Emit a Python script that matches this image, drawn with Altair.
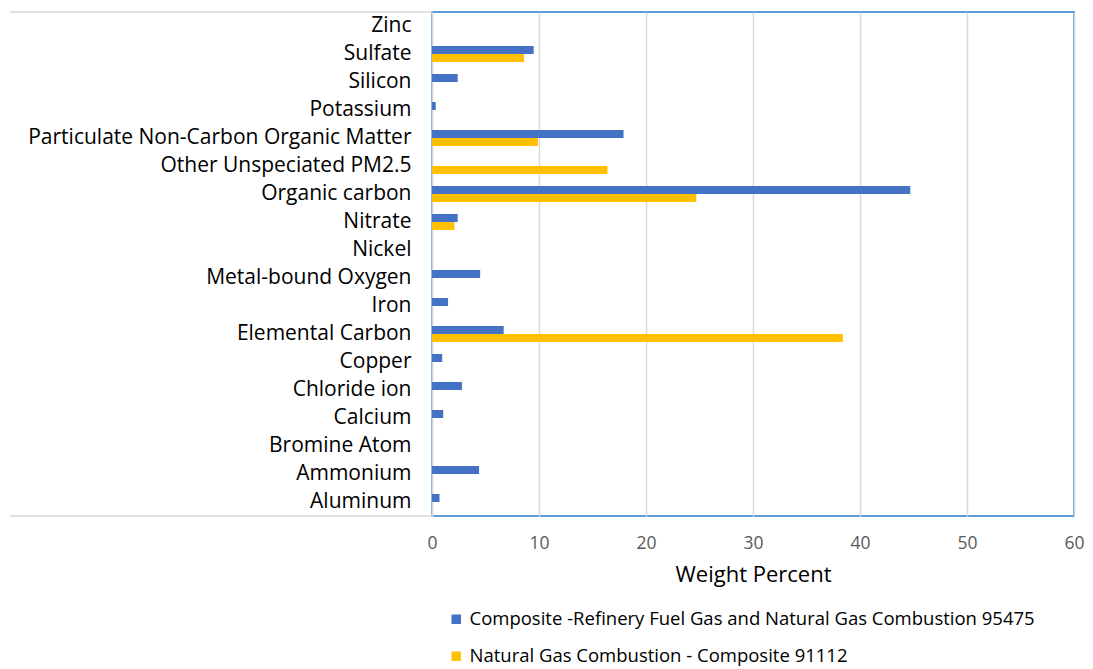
import altair as alt
import pandas as pd

categories = ["Zinc", "Sulfate", "Silicon", "Potassium",
              "Particulate Non-Carbon Organic Matter", "Other Unspeciated PM2.5",
              "Organic carbon", "Nitrate", "Nickel", "Metal-bound Oxygen", "Iron",
              "Elemental Carbon", "Copper", "Chloride ion", "Calcium",
              "Bromine Atom", "Ammonium", "Aluminum"]
series_names = ["Composite -Refinery Fuel Gas and Natural Gas Combustion 95475",
                "Natural Gas Combustion - Composite 91112"]
refinery = [0, 9.5, 2.4, 0.35, 17.9, 0, 44.7, 2.4, 0, 4.5, 1.5,
            6.7, 0.95, 2.8, 1.05, 0, 4.4, 0.7]
natgas = [0, 8.6, 0, 0, 9.9, 16.4, 24.7, 2.1, 0, 0, 0,
          38.4, 0, 0, 0, 0, 0, 0]

rows = []
for c, a, b in zip(categories, refinery, natgas):
    rows.append({"cat": c, "series": series_names[0], "value": a})
    rows.append({"cat": c, "series": series_names[1], "value": b})
df = pd.DataFrame(rows)

FONT = "Open Sans"

bars = alt.Chart(df).mark_bar().encode(
    y=alt.Y("cat:N", sort=categories,
            scale=alt.Scale(paddingInner=0.43, paddingOuter=0.215),
            axis=alt.Axis(title=None, labelFontSize=21, labelColor="#000000",
                          labelFont=FONT, ticks=False, labelPadding=21,
                          domainColor="#d9d9d9", domainWidth=1.5, grid=False,
                          labelLimit=500)),
    yOffset=alt.YOffset("series:N", sort=series_names),
    x=alt.X("value:Q", scale=alt.Scale(domain=[0, 60]),
            axis=alt.Axis(title="Weight Percent", values=[0, 10, 20, 30, 40, 50, 60],
                          labelFontSize=17.5, labelColor="#595959", labelFont=FONT,
                          labelFlush=False,
                          titleFont=FONT, titleFontSize=22, titleColor="#000000",
                          titleFontWeight="normal", titlePadding=13,
                          ticks=False, domain=False, labelPadding=18,
                          gridColor="#d9d9d9", gridWidth=1.5)),
    color=alt.Color("series:N", sort=series_names,
                    scale=alt.Scale(domain=series_names, range=["#4472C4", "#FFC000"]),
                    legend=alt.Legend(title=None, orient="none", legendX=15, legendY=598,
                                      direction="vertical", symbolType="square",
                                      symbolSize=90, symbolStrokeWidth=0,
                                      labelFontSize=18.5, labelFont=FONT,
                                      labelColor="#000000", rowPadding=18,
                                      labelLimit=800)),
)

deco = pd.DataFrame({"k": [0, 1]})
top_rule = alt.Chart(deco).transform_filter("datum.k == 0").mark_rule(
    color="#d9d9d9", strokeWidth=1.5, clip=False).encode(
    x=alt.value(-422), x2=alt.value(0), y=alt.value(0))
bot_rule = alt.Chart(deco).transform_filter("datum.k == 1").mark_rule(
    color="#d9d9d9", strokeWidth=1.5, clip=False).encode(
    x=alt.value(-422), x2=alt.value(0), y=alt.value(504))

chart = alt.layer(top_rule, bot_rule, bars).properties(
    width=642, height=504,
    autosize=alt.AutoSizeParams(type="none"),
    padding={"left": 424, "top": 4, "right": 11, "bottom": 153},
).configure_view(stroke="#5B9BD5", strokeWidth=2)

chart.save("out.html", embed_options={"renderer": "svg", "actions": False})
